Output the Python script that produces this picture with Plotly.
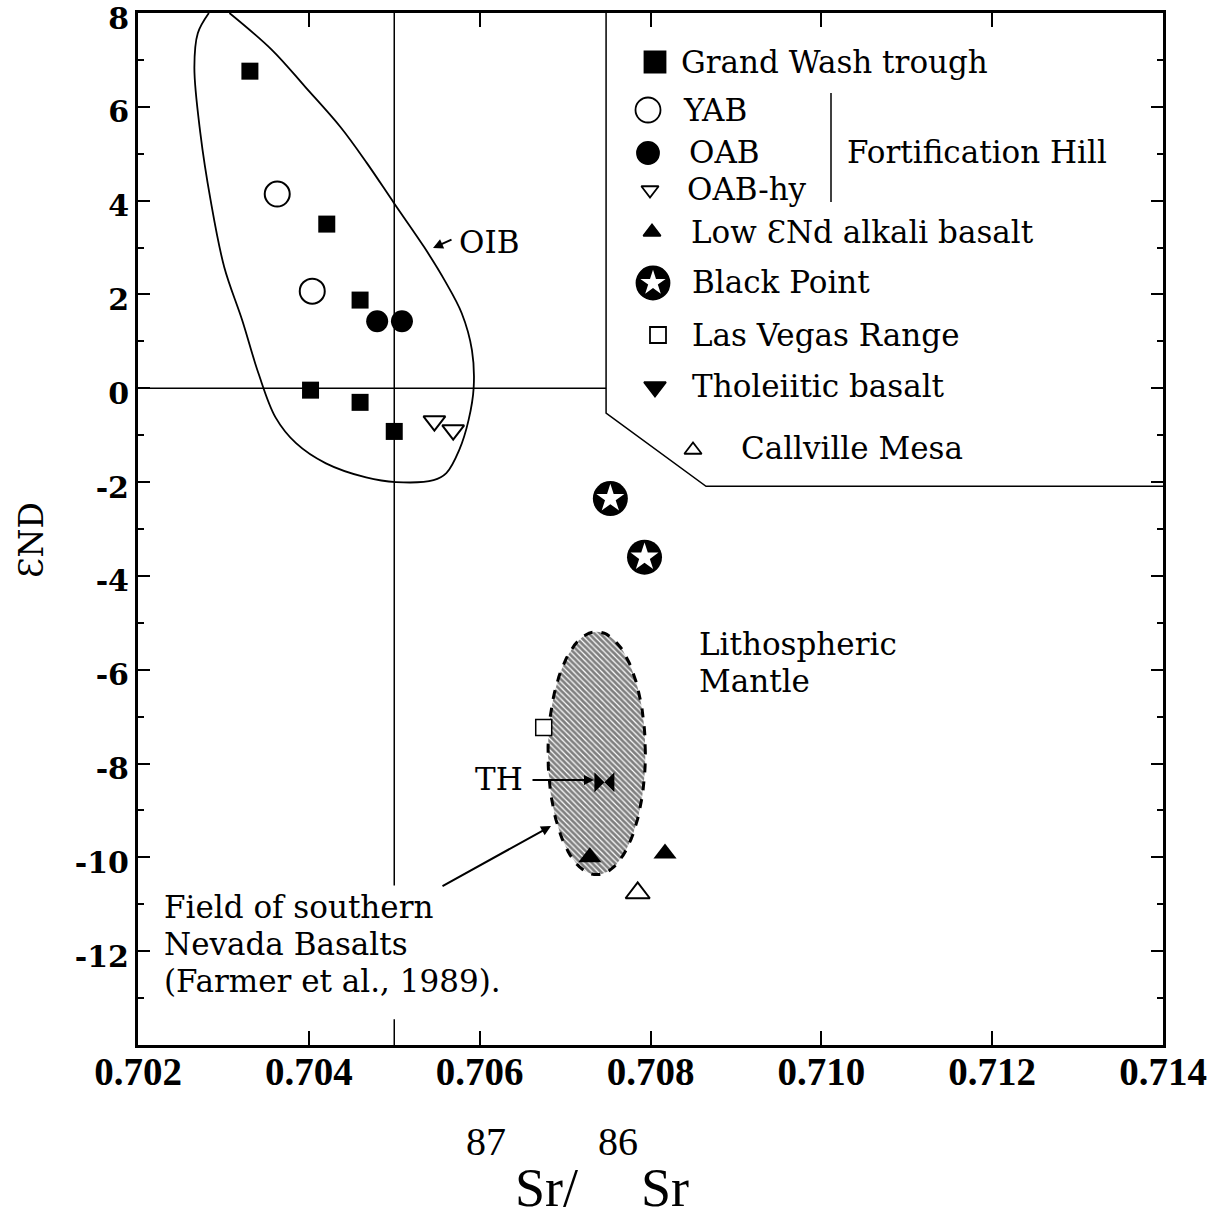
import numpy as np
import plotly.graph_objects as go

# ---------------- data ----------------
gwt_x = [0.70331, 0.70421, 0.70460, 0.70402, 0.70460, 0.70500]   # Grand Wash trough
gwt_y = [6.76, 3.50, 1.88, -0.04, -0.30, -0.92]
yab_x = [0.70363, 0.70404]                                          # YAB
yab_y = [4.14, 2.07]
oab_x = [0.70480, 0.70509]                                          # OAB
oab_y = [1.43, 1.43]
oabhy_x = [0.70547, 0.70569]                                        # OAB-hy
oabhy_y = [-0.70, -0.89]
low_x = [0.70729, 0.70817]                                          # Low eNd alkali basalt
low_y = [-10.00, -9.92]
bp_x = [0.70753, 0.70793]                                           # Black Point
bp_y = [-2.35, -3.60]
lvr_x = [0.70675]                                                   # Las Vegas Range
lvr_y = [-7.23]
th_x = [0.70746]                                                    # Tholeiitic basalt
th_y = [-8.40]
cm_x = [0.70785]                                                    # Callville Mesa
cm_y = [-10.76]

# OIB field outline (traced)
oib_x = [0.70307, 0.70357, 0.70396, 0.70437, 0.70468, 0.70500, 0.70535, 0.70559,
         0.70579, 0.70591, 0.70593, 0.70587, 0.70576, 0.70561, 0.70546, 0.70502,
         0.70467, 0.70420, 0.70385, 0.70361, 0.70341, 0.70322, 0.70301, 0.70285,
         0.70273, 0.70266, 0.70270, 0.70283]
oib_y = [8.00, 7.21, 6.42, 5.57, 4.80, 3.94, 3.01, 2.30,
         1.60, 0.81, 0.02, -0.68, -1.32, -1.81, -1.96, -2.00,
         -1.90, -1.60, -1.17, -0.62, 0.32, 1.45, 2.58, 4.01,
         5.44, 6.84, 7.57, 8.00]

# Lithospheric mantle field (ellipse: centre and half-axes)
lm_cx, lm_cy = 0.70737, -7.78
lm_hw, lm_hh = 0.00057, 2.59

# reference lines
vref_x = [0.705, 0.705]
vref_y = [8.0, -10.6]
vtick_y = [-14.0, -13.45]
href_x = [0.702, 0.70748]
href_y = [0.0, 0.0]
box_x = [0.70748, 0.70748, 0.70865, 0.714]
box_y = [8.0, -0.53, -2.09, -2.09]

x_ticks = [0.702, 0.704, 0.706, 0.708, 0.710, 0.712, 0.714]
x_tick_text = ["0.702", "0.704", "0.706", "0.708", "0.710", "0.712", "0.714"]
y_ticks = [-12, -10, -8, -6, -4, -2, 0, 2, 4, 6, 8]
y_tick_text = [str(v) for v in y_ticks]

legend_labels = ["Grand Wash trough", "YAB", "OAB", "OAB-hy", "Low ƐNd alkali basalt",
                 "Black Point", "Las Vegas Range", "Tholeiitic basalt", "Callville Mesa"]

# ---------------- figure ----------------
SERIF = "DejaVu Serif"
fig = go.Figure()

# lines
fig.add_trace(go.Scatter(x=vref_x, y=vref_y, mode="lines", line=dict(color="black", width=1.5), hoverinfo="skip"))
fig.add_trace(go.Scatter(x=vref_x, y=vtick_y, mode="lines", line=dict(color="black", width=1.5), hoverinfo="skip"))
fig.add_trace(go.Scatter(x=href_x, y=href_y, mode="lines", line=dict(color="black", width=1.5), hoverinfo="skip"))
fig.add_trace(go.Scatter(x=box_x, y=box_y, mode="lines", line=dict(color="black", width=1.5), hoverinfo="skip"))
fig.add_trace(go.Scatter(x=oib_x, y=oib_y, mode="lines", line=dict(color="black", width=1.8, shape="spline", smoothing=1.0), hoverinfo="skip"))

# lithospheric mantle ellipse
t = np.linspace(0, 2 * np.pi, 121)
fig.add_trace(go.Scatter(
    x=lm_cx + lm_hw * np.cos(t), y=lm_cy + lm_hh * np.sin(t), mode="lines",
    fill="toself", fillcolor="white",
    fillpattern=dict(shape="\\", fgcolor="black", bgcolor="white", size=4, solidity=0.7),
    line=dict(color="black", width=3, dash="dash"), hoverinfo="skip"))

mk = dict(mode="markers", hoverinfo="x+y")
fig.add_trace(go.Scatter(x=gwt_x, y=gwt_y, name=legend_labels[0], marker=dict(symbol="square", size=17, color="black"), **mk))
fig.add_trace(go.Scatter(x=yab_x, y=yab_y, name=legend_labels[1], marker=dict(symbol="circle", size=25, color="white", line=dict(color="black", width=2)), **mk))
fig.add_trace(go.Scatter(x=oab_x, y=oab_y, name=legend_labels[2], marker=dict(symbol="circle", size=22, color="black"), **mk))
fig.add_trace(go.Scatter(x=oabhy_x, y=oabhy_y, name=legend_labels[3], marker=dict(symbol="triangle-down", size=19, color="white", line=dict(color="black", width=2)), **mk))
fig.add_trace(go.Scatter(x=low_x, y=low_y, name=legend_labels[4], marker=dict(symbol="triangle-up", size=20, color="black"), **mk))
fig.add_trace(go.Scatter(x=bp_x, y=bp_y, name=legend_labels[5], marker=dict(symbol="circle", size=35, color="black"), **mk))
fig.add_trace(go.Scatter(x=bp_x, y=bp_y, marker=dict(symbol="star", size=21, color="white"), mode="markers", hoverinfo="skip"))
fig.add_trace(go.Scatter(x=lvr_x, y=lvr_y, name=legend_labels[6], marker=dict(symbol="square", size=16, color="white", line=dict(color="black", width=1.5)), **mk))
fig.add_trace(go.Scatter(x=th_x, y=th_y, name=legend_labels[7], marker=dict(symbol="bowtie", size=20, color="black"), **mk))
fig.add_trace(go.Scatter(x=cm_x, y=cm_y, name=legend_labels[8], marker=dict(symbol="triangle-up", size=21, color="white", line=dict(color="black", width=2)), **mk))

# ---------------- hand-made legend on a pixel overlay axis ----------------
L, R, T, B = 138, 1163, 13, 1045
W, H = 1213, 1224
leg_mx = [655, 648, 648, 650, 652, 653, 658, 655, 693]
leg_my = [62, 110, 153, 190, 232, 283, 335, 387, 450]
leg_sym = ["square", "circle", "circle", "triangle-down", "triangle-up", "circle", "square", "triangle-down", "triangle-up"]
leg_size = [21, 25, 22, 15, 15, 33, 16, 19, 15]
leg_fill = ["black", "white", "black", "white", "black", "black", "white", "black", "white"]
leg_tx = [679, 681, 687, 685, 689, 690, 690, 690, 739]
leg_ty = [62, 110, 152, 189, 232, 282, 335, 386, 448]

for i in range(len(legend_labels)):
    fig.add_trace(go.Scatter(
        x=[leg_mx[i]], y=[leg_my[i]], xaxis="x2", yaxis="y2", mode="markers", hoverinfo="skip",
        marker=dict(symbol=leg_sym[i], size=leg_size[i], color=leg_fill[i], line=dict(color="black", width=1.8))))
fig.add_trace(go.Scatter(x=[leg_mx[5]], y=[leg_my[5]], xaxis="x2", yaxis="y2", mode="markers", hoverinfo="skip",
                         marker=dict(symbol="star", size=19, color="white")))

annots = []
for i, lab in enumerate(legend_labels):
    annots.append(dict(x=leg_tx[i], y=leg_ty[i], xref="x2", yref="y2", text=lab, showarrow=False,
                       xanchor="left", yanchor="middle", font=dict(family=SERIF, size=31, color="black")))
annots.append(dict(x=845, y=152, xref="x2", yref="y2", text="Fortification Hill", showarrow=False,
                   xanchor="left", yanchor="middle", font=dict(family=SERIF, size=31, color="black")))

txt = dict(family=SERIF, size=31, color="black")
annots += [
    dict(x=457, y=242, xref="x2", yref="y2", text="OIB", showarrow=False, xanchor="left", yanchor="middle", font=txt),
    dict(x=433, y=248, ax=453, ay=239, xref="x2", yref="y2", axref="x2", ayref="y2", text="", showarrow=True,
         arrowhead=2, arrowsize=1, arrowwidth=2, arrowcolor="black"),
    dict(x=697, y=644, xref="x2", yref="y2", text="Lithospheric", showarrow=False, xanchor="left", yanchor="middle", font=txt),
    dict(x=697, y=681, xref="x2", yref="y2", text="Mantle", showarrow=False, xanchor="left", yanchor="middle", font=txt),
    dict(x=525, y=779, xref="x2", yref="y2", text="TH", showarrow=False, xanchor="right", yanchor="middle", font=txt),
    dict(x=594, y=780, ax=531, ay=780, xref="x2", yref="y2", axref="x2", ayref="y2", text="", showarrow=True,
         arrowhead=2, arrowsize=1, arrowwidth=2, arrowcolor="black"),
    dict(x=162, y=907, xref="x2", yref="y2", text="Field of southern", showarrow=False, xanchor="left", yanchor="middle", font=txt),
    dict(x=162, y=944, xref="x2", yref="y2", text="Nevada Basalts", showarrow=False, xanchor="left", yanchor="middle", font=txt),
    dict(x=162, y=981, xref="x2", yref="y2", text="(Farmer et al., 1989).", showarrow=False, xanchor="left", yanchor="middle", font=txt),
    dict(x=551, y=826, ax=441, ay=887, xref="x2", yref="y2", axref="x2", ayref="y2", text="", showarrow=True,
         arrowhead=2, arrowsize=1, arrowwidth=2, arrowcolor="black"),
]

def px_to_paper(px, py):
    return (px - L) / (R - L), (B - py) / (B - T)

for text, px, py, size in [("87", 486, 1141, 40), ("Sr/", 546, 1188, 54), ("86", 618, 1141, 40), ("Sr", 665, 1188, 54)]:
    xp, yp = px_to_paper(px, py)
    annots.append(dict(x=xp, y=yp, xref="paper", yref="paper", text=text, showarrow=False,
                       xanchor="center", yanchor="middle",
                       font=dict(family="Liberation Serif", size=size, color="black")))
xp, yp = px_to_paper(31, 540)
annots.append(dict(x=xp, y=yp, xref="paper", yref="paper", text="ƐND", textangle=-90, showarrow=False,
                   xanchor="center", yanchor="middle", font=dict(family=SERIF, size=33, color="black")))

shapes = [dict(type="line", xref="x2", yref="y2", x0=831, x1=831, y0=93, y1=202, line=dict(color="black", width=1.5))]

fig.update_layout(
    width=W, height=H,
    margin=dict(l=L, r=W - R, t=T, b=H - B, autoexpand=False),
    paper_bgcolor="white", plot_bgcolor="white",
    showlegend=False,
    annotations=annots, shapes=shapes,
    xaxis=dict(range=[0.702, 0.714], tickvals=x_ticks, ticktext=x_tick_text, ticks="inside", ticklen=14,
               tickwidth=1.5, tickcolor="black", showline=True, linewidth=3, linecolor="black", mirror="ticks",
               showgrid=False, zeroline=False, ticklabeloverflow="allow", ticklabelstandoff=-10, automargin=False,
               tickfont=dict(family="Liberation Serif", size=39, color="black", weight="bold")),
    yaxis=dict(range=[-14, 8], tickvals=y_ticks, ticktext=y_tick_text, ticks="inside", ticklen=12,
               tickwidth=1.5, tickcolor="black", showline=True, linewidth=3, linecolor="black", mirror="ticks",
               showgrid=False, zeroline=False, ticklabeloverflow="allow", automargin=False, ticklabelshift=5,
               minor=dict(dtick=1, tick0=0, ticks="inside", ticklen=6, tickwidth=1.5, tickcolor="black"),
               tickfont=dict(family=SERIF, size=30, color="black", weight="bold")),
    xaxis2=dict(overlaying="x", range=[L, R], visible=False, showgrid=False, zeroline=False, anchor="y2", automargin=False),
    yaxis2=dict(overlaying="y", range=[B, T], visible=False, showgrid=False, zeroline=False, anchor="x2", automargin=False),
)

fig.write_html("out.html", config={"displayModeBar": False},
               post_script="document.body.style.margin='0';document.body.style.overflow='hidden';")
